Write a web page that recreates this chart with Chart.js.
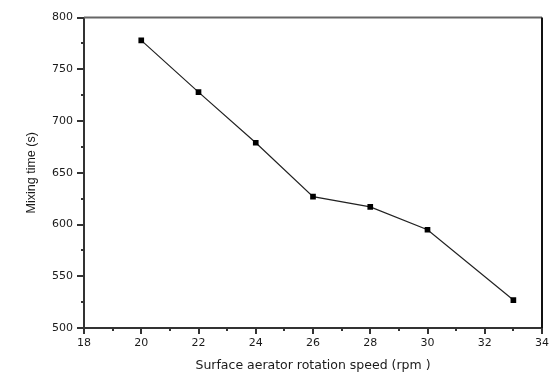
<!DOCTYPE html>
<html>
<head>
<meta charset="utf-8">
<script src="https://cdn.jsdelivr.net/npm/chart.js@4/dist/chart.umd.min.js"></script>
<style>
html,body{margin:0;padding:0;background:#fff;}
#wrap{width:558px;height:374px;position:relative;}
</style>
</head>
<body>
<div id="wrap"><canvas id="c" width="558" height="374"></canvas></div>
<script>
const speeds = [20, 22, 24, 26, 28, 30, 33];
const mixingTimes = [778, 728, 679, 627, 617, 595, 527];
const xTickValues = [18, 20, 22, 24, 26, 28, 30, 32, 34];
const yTickValues = [500, 550, 600, 650, 700, 750, 800];

const axisTicks = {
  id: 'axisTicks',
  afterDraw(chart) {
    const ctx = chart.ctx;
    const xs = chart.scales.x, ys = chart.scales.y;
    const a = chart.chartArea;
    ctx.save();
    ctx.strokeStyle = '#333';
    ctx.lineWidth = 2;
    for (let v = xs.min; v <= xs.max; v += 1) {
      const px = Math.round(xs.getPixelForValue(v));
      const major = v % 2 === 0;
      ctx.beginPath();
      ctx.moveTo(px, a.bottom);
      ctx.lineTo(px, a.bottom + (major ? 6 : 3));
      ctx.stroke();
    }
    for (let v = ys.min; v <= ys.max; v += 25) {
      const py = Math.round(ys.getPixelForValue(v));
      const major = v % 50 === 0;
      ctx.beginPath();
      ctx.moveTo(a.left, py);
      ctx.lineTo(a.left - (major ? 7 : 3), py);
      ctx.stroke();
    }
    ctx.strokeStyle = '#666';
    ctx.beginPath();
    ctx.moveTo(a.left, a.top);
    ctx.lineTo(a.right, a.top);
    ctx.stroke();
    ctx.strokeStyle = '#111';
    ctx.beginPath();
    ctx.moveTo(a.right, a.top);
    ctx.lineTo(a.right, a.bottom);
    ctx.stroke();
    ctx.restore();
  }
};

new Chart(document.getElementById('c'), {
  type: 'line',
  data: {
    datasets: [{
      data: speeds.map((s, i) => ({x: s, y: mixingTimes[i]})),
      borderColor: '#222',
      borderWidth: 1.2,
      backgroundColor: '#000',
      pointStyle: 'rect',
      pointRadius: 4,
      pointBackgroundColor: '#000',
      pointBorderColor: '#000',
      pointBorderWidth: 0,
      tension: 0,
      fill: false
    }]
  },
  options: {
    responsive: false,
    animation: false,
    devicePixelRatio: 1,
    layout: {padding: {top: 15, right: 7, left: 0, bottom: 0}},
    plugins: {legend: {display: false}, tooltip: {enabled: false}},
    scales: {
      x: {
        type: 'linear',
        min: 18, max: 34,
        afterBuildTicks(scale) { scale.ticks = xTickValues.map(v => ({value: v})); },
        afterFit(scale) { scale.height = 46; },
        grid: {display: false, drawTicks: false},
        border: {display: true, color: '#333', width: 2},
        ticks: {
          padding: 9,
          color: '#1a1a1a',
          font: {family: 'DejaVu Sans', size: 11},
          maxRotation: 0
        },
        title: {
          display: true,
          text: 'Surface aerator rotation speed (rpm )',
          color: '#1a1a1a',
          font: {family: 'DejaVu Sans', size: 12.5},
          padding: {top: 0, bottom: 1}
        }
      },
      y: {
        type: 'linear',
        min: 500, max: 800,
        afterBuildTicks(scale) { scale.ticks = yTickValues.map(v => ({value: v})); },
        afterFit(scale) { scale.width = 84; },
        grid: {display: false, drawTicks: false},
        border: {display: true, color: '#333', width: 2},
        ticks: {
          padding: 11,
          color: '#1a1a1a',
          font: {family: 'DejaVu Sans', size: 11}
        },
        title: {
          display: true,
          text: 'Mixing time (s)',
          color: '#1a1a1a',
          font: {family: 'Liberation Sans', size: 12.5},
          padding: {top: 24, bottom: 0}
        }
      }
    }
  },
  plugins: [axisTicks]
});
</script>
</body>
</html>
